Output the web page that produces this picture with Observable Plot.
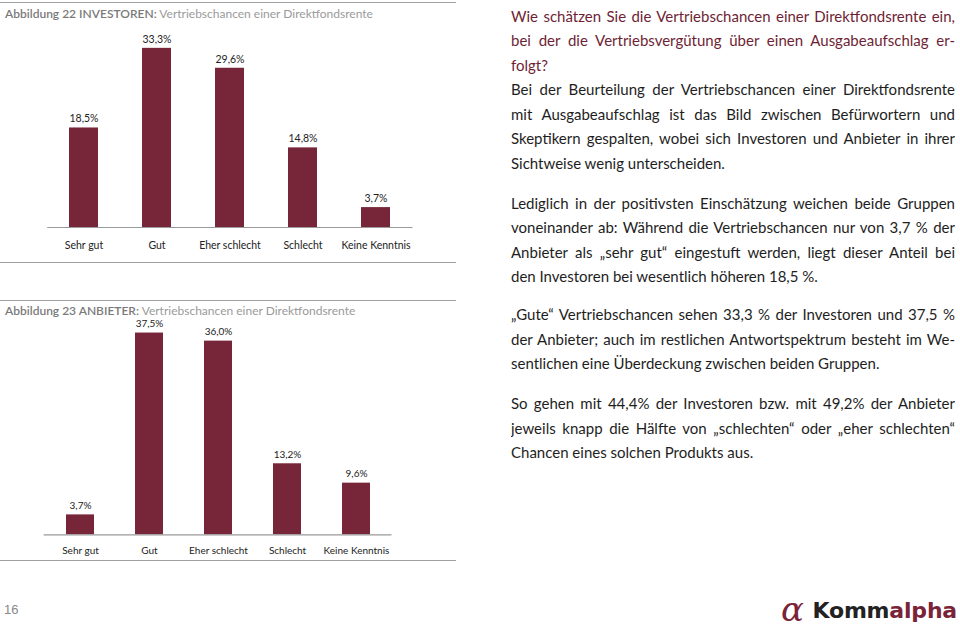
<!DOCTYPE html>
<html lang="de">
<head>
<meta charset="utf-8">
<script src="https://cdn.jsdelivr.net/npm/d3@7"></script>
<script src="https://cdn.jsdelivr.net/npm/@observablehq/plot@0.6"></script>
<style>
  html, body { margin: 0; padding: 0; background: #fff; }
  body { width: 960px; height: 628px; position: relative; overflow: hidden; font-family: Lato, "Open Sans", sans-serif; }
  .rule { position: absolute; left: 0; width: 456px; height: 0; border-top: 1.5px solid #a0a0a0; }
  .ctitle { position: absolute; left: 5px; font-size: 12px; color: #9a9a9a; white-space: nowrap; line-height: 14px; }
  .ctitle b { color: #7a7a7a; font-weight: 600; }
  .chart { position: absolute; left: 0; }
  #text { position: absolute; left: 511px; top: 3.75px; width: 444px; font-size: 15px; color: #1e1e1e; }
  #text div { height: 24.5px; line-height: 24.5px; white-space: nowrap; }
  #text div.j { text-align: justify; text-align-last: justify; white-space: normal; overflow: hidden; }
  #text .q { color: #6e1f35; }
  #text .gap { margin-top: 15.5px; }
  #text .gap2 { margin-top: 13.5px; }
  #page { position: absolute; left: 4px; top: 602px; font-family: "Liberation Sans", Arial, sans-serif; font-size: 13px; color: #888; }
  #logo { position: absolute; right: 3px; top: 598px; white-space: nowrap; font-family: "DejaVu Sans", sans-serif; font-weight: bold; font-size: 22px; line-height: 26px; color: #222; letter-spacing: -0.2px; }
  #alpha { position: absolute; right: 150px; top: 594px; font-family: "DejaVu Serif", serif; font-style: italic; font-size: 34px; line-height: 30px; padding: 0 6px; color: #7a2338; }
  #logo .m { color: #7a2338; }
</style>
</head>
<body>
<div class="rule" style="top:2px"></div>
<div class="ctitle" style="top:7px"><b>Abbildung 22 INVESTOREN:</b> Vertriebschancen einer Direktfondsrente</div>
<div id="c1" class="chart" style="top:20px"></div>
<div class="rule" style="top:262px"></div>

<div class="rule" style="top:300px"></div>
<div class="ctitle" style="top:304px"><b>Abbildung 23 ANBIETER:</b> Vertriebschancen einer Direktfondsrente</div>
<div id="c2" class="chart" style="top:318px"></div>
<div class="rule" style="top:560px"></div>

<div id="text">
  <div class="j q">Wie schätzen Sie die Vertriebschancen einer Direktfondsrente ein,</div>
  <div class="j q">bei der die Vertriebsvergütung über einen Ausgabeaufschlag er-</div>
  <div class="q">folgt?</div>
  <div class="j">Bei der Beurteilung der Vertriebschancen einer Direktfondsrente</div>
  <div class="j">mit Ausgabeaufschlag ist das Bild zwischen Befürwortern und</div>
  <div class="j">Skeptikern gespalten, wobei sich Investoren und Anbieter in ihrer</div>
  <div>Sichtweise wenig unterscheiden.</div>
  <div class="j gap">Lediglich in der positivsten Einschätzung weichen beide Gruppen</div>
  <div class="j">voneinander ab: Während die Vertriebschancen nur von 3,7 % der</div>
  <div class="j">Anbieter als „sehr gut“ eingestuft werden, liegt dieser Anteil bei</div>
  <div>den Investoren bei wesentlich höheren 18,5 %.</div>
  <div class="j gap2">„Gute“ Vertriebschancen sehen 33,3 % der Investoren und 37,5 %</div>
  <div class="j">der Anbieter; auch im restlichen Antwortspektrum besteht im We-</div>
  <div>sentlichen eine Überdeckung zwischen beiden Gruppen.</div>
  <div class="j gap">So gehen mit 44,4% der Investoren bzw. mit 49,2% der Anbieter</div>
  <div class="j">jeweils knapp die Hälfte von „schlechten“ oder „eher schlechten“</div>
  <div>Chancen eines solchen Produkts aus.</div>
</div>

<div id="page">16</div>
<div id="alpha">α</div>
<div id="logo">Komm<span class="m">alpha</span></div>

<script>
const categories = ["Sehr gut", "Gut", "Eher schlecht", "Schlecht", "Keine Kenntnis"];
const investoren = [18.5, 33.3, 29.6, 14.8, 3.7];
const anbieter = [3.7, 37.5, 36.0, 13.2, 9.6];

const BAR = "#772538";
const PX_PER_PCT = 5.38;

function makeChart(values, cfg) {
  const data = categories.map((c, i) => ({ c, v: values[i] }));
  const H = 240;
  return Plot.plot({
    width: 455,
    height: H,
    marginLeft: cfg.left,
    marginRight: cfg.right,
    marginTop: 0,
    marginBottom: H - cfg.base,
    style: { fontFamily: "Lato, sans-serif", fontSize: cfg.fs + "px", color: "#222", background: "transparent", overflow: "visible" },
    x: { domain: categories, paddingInner: 0.6, paddingOuter: 0.3, label: null },
    y: { domain: [0, 40], range: [cfg.base, cfg.base - 40 * PX_PER_PCT], axis: null },
    marks: [
      Plot.barY(data, { x: "c", y: "v", fill: BAR }),
      Plot.ruleY([0], { stroke: "#9a9a9a", strokeWidth: 1.2 }),
      Plot.text(data, {
        x: "c", y: "v",
        text: d => d.v.toFixed(1).replace(".", ",") + "%",
        dy: -9, lineAnchor: "middle", fill: "#222", fontSize: cfg.fs
      }),
      Plot.axisX({ tickSize: 0, tickPadding: cfg.pad, label: null, fill: "#222", fontSize: cfg.fs })
    ]
  });
}

document.getElementById("c1").append(
  makeChart(investoren, { left: 47.2, right: 42.5, base: 207, fs: 10.5, pad: 14 })
);
document.getElementById("c2").append(
  makeChart(anbieter, { left: 43.7, right: 63.5, base: 216.3, fs: 10, pad: 12 })
);
</script>
</body>
</html>
